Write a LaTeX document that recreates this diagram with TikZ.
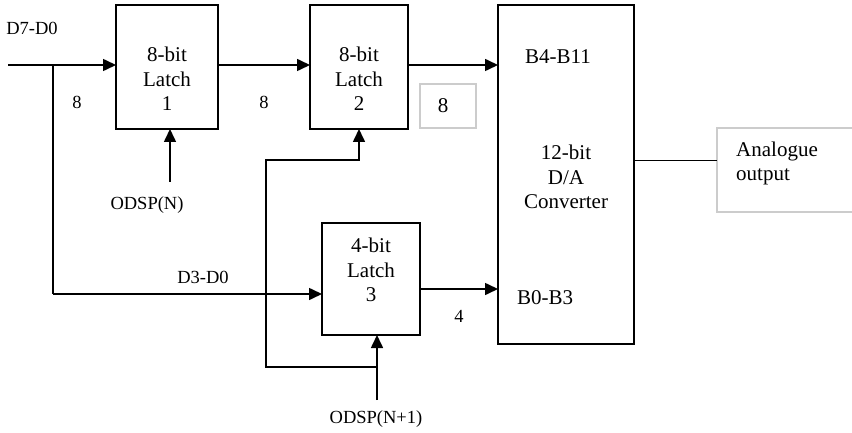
\documentclass[tikz,border=0pt]{standalone}
\usepackage{fontspec}
\setmainfont{Liberation Serif}
\usetikzlibrary{arrows.meta}
\begin{document}
\begin{tikzpicture}[x=1pt,y=-1pt,
  blk/.style={draw, line width=1.6pt, inner sep=0pt, outer sep=0pt},
  gblk/.style={draw=black!20, line width=1.6pt, inner sep=0pt, outer sep=0pt},
  wire/.style={line width=1.6pt},
  arr/.style={wire, -{Triangle[length=13pt,width=12pt]}},
  txt/.style={font=\fontsize{21}{24.5}\selectfont, inner sep=0pt, align=center},
  stxt/.style={font=\fontsize{18.5}{22}\selectfont, inner sep=0pt, align=center}]
\useasboundingbox (0,0) rectangle (852,433);
\clip (0,0) rectangle (852,433);
% blocks
\node[blk, minimum width=102pt, minimum height=124pt] (l1) at (167,67) {};
\node[blk, minimum width=98pt, minimum height=124pt] (l2) at (359,67) {};
\node[blk, minimum width=98pt, minimum height=112pt] (l3) at (371,279) {};
\node[blk, minimum width=136pt, minimum height=339pt] (dac) at (566,174.5) {};
\node[gblk, minimum width=56pt, minimum height=44pt] (g8) at (448,106) {};
\node[gblk, minimum width=143pt, minimum height=84pt] (ana) at (788.5,170) {};
% texts
\node[txt] (t1) at (167,79) {8-bit\\Latch\\1};
\node[txt] (t2) at (359,79) {8-bit\\Latch\\2};
\node[txt] (t3) at (371,270) {4-bit\\Latch\\3};
\node[txt] (tdac) at (566,177) {12-bit\\D/A\\Converter};
\node[txt] (tb4) at (558,57) {B4-B11};
\node[txt] (tb0) at (545,298) {B0-B3};
\node[txt] (tg8) at (443,106) {8};
\node[txt, align=left, anchor=west] (tana) at (736,163.5) {Analogue\\output};
\node[stxt] (td7) at (32,28) {D7-D0};
\node[stxt] (n8a) at (77,102) {8};
\node[stxt] (n8b) at (264,102) {8};
\node[stxt] (tN) at (147,205) {ODSP(N)};
\node[stxt] (td3) at (203,277) {D3-D0};
\node[stxt] (n4) at (459,316) {4};
\node[stxt] (tN1) at (376,419) {ODSP(N+1)};
% coordinates
\coordinate (in) at (8,65);
\coordinate (br) at (53,65);
\coordinate (j3) at (53,294);
\coordinate (o3) at (420,289);
\coordinate (cN) at (170,182);
\coordinate (cN1) at (377,400);
\coordinate (k1) at (377,367);
\coordinate (k2) at (266,160);
\coordinate (aout) at (634,161);
% wires
\draw[arr] (in) -- (in -| l1.west);
\draw[wire] (br) -- (j3);
\draw[arr] (j3) -- (j3 -| l3.west);
\draw[arr] (l1.east |- in) -- (l2.west |- in);
\draw[arr] (l2.east |- in) -- (dac.west |- in);
\draw[arr] (o3) -- (o3 -| dac.west);
\draw[arr] (cN) -- (cN |- l1.south);
\draw[arr] (cN1) -- (cN1 |- l3.south);
\draw[arr] (k1) -- (k1 -| k2) -- (k2) -- (k2 -| l2.south) -- (l2.south);
\draw[line width=1pt] (aout) -- (aout -| ana.west);
\end{tikzpicture}
\end{document}
